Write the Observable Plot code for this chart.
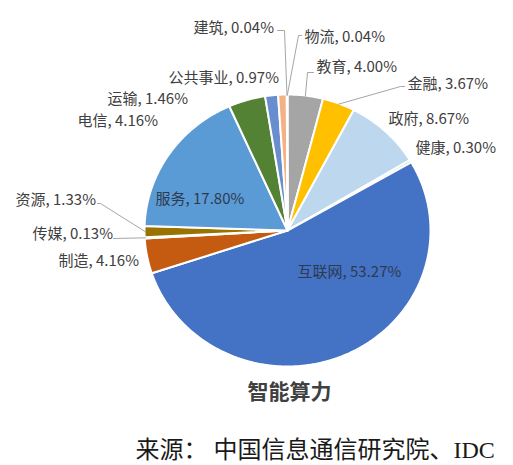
<!DOCTYPE html>
<html>
<head>
<meta charset="utf-8">
<script src="https://cdn.jsdelivr.net/npm/d3@7"></script>
<script src="https://cdn.jsdelivr.net/npm/@observablehq/plot@0.6"></script>
<style>
  html, body { margin: 0; padding: 0; background: #ffffff; }
  #chart { width: 513px; height: 465px; }
</style>
</head>
<body>
<div id="chart"></div>
<script>
// ---- data ----
const categories = ["教育", "金融", "政府", "健康", "互联网", "制造", "传媒", "资源", "服务", "电信", "运输", "公共事业", "建筑", "物流"];
const shares = [4.00, 3.67, 8.67, 0.30, 53.27, 4.16, 0.13, 1.33, 17.80, 4.16, 1.46, 0.97, 0.04, 0.04];
const sliceColors = ["#A5A5A5", "#FFC000", "#BDD7EE", "#A9D18E", "#4472C4", "#C55A11", "#F4B183", "#997300", "#5B9BD5", "#548235", "#698ED0", "#F4B183", "#FFD966", "#9DC3E6"];
const title = "智能算力";
const source = "来源： 中国信息通信研究院、IDC";

// ---- layout (chart pixel coordinates) ----
const pie = {cx: 287, cy: 230, rx: 143, ry: 136};
const labelX = [316, 407, 388, 415, 297, 58, 32, 15, 155, 77, 107, 168, 193, 304];
const labelY = [67, 84, 119, 148, 272, 261, 234, 200, 199, 121, 99, 78, 28, 37];
const labelInside = [false, false, false, false, true, false, false, false, true, false, false, false, false, false];
// leader line waypoints from pie edge toward the label (null = no leader)
const leaderWay = [
  [[307, 72], [313, 72]],
  [[400, 86], [404, 86]],
  null, null, null, null,
  [[113, 238]],
  [[100, 203], [97, 203]],
  null, null, null, null,
  [[284, 30], [277, 30]],
  [[298, 35], [301, 35]]
];

// ---- geometry via d3.pie ----
const arcs = d3.pie().sort(null).value(d => d)(shares);
const pt = (a, k = 1) => [pie.cx + k * pie.rx * Math.sin(a), pie.cy - k * pie.ry * Math.cos(a)];

const slicePts = [];
arcs.forEach((a, i) => {
  const cat = categories[i];
  slicePts.push({cat, x: pie.cx, y: pie.cy});
  const span = a.endAngle - a.startAngle;
  const n = Math.max(1, Math.ceil(span / (Math.PI / 360)));
  for (let j = 0; j <= n; j++) {
    const [x, y] = pt(a.startAngle + span * j / n);
    slicePts.push({cat, x, y});
  }
});

const leaderPts = [];
arcs.forEach((a, i) => {
  if (!leaderWay[i]) return;
  const mid = (a.startAngle + a.endAngle) / 2;
  const [x0, y0] = pt(mid, 0.995);
  leaderPts.push({cat: categories[i], x: x0, y: y0});
  leaderWay[i].forEach(([x, y]) => leaderPts.push({cat: categories[i], x, y}));
});

const labels = categories.map((c, i) => ({
  text: `${c}, ${shares[i].toFixed(2)}%`,
  x: labelX[i], y: labelY[i], inside: labelInside[i]
}));

const chart = Plot.plot({
  width: 513,
  height: 465,
  margin: 0,
  style: {background: "#ffffff"},
  x: {domain: [0, 513], range: [0, 513], axis: null},
  y: {domain: [0, 465], range: [0, 465], axis: null},
  color: {domain: categories, range: sliceColors},
  marks: [
    Plot.line(slicePts, {x: "x", y: "y", z: "cat", fill: "cat", stroke: "#ffffff", strokeWidth: 2, strokeLinejoin: "round", curve: "linear-closed"}),
    Plot.line(leaderPts, {x: "x", y: "y", z: "cat", stroke: "#A6A6A6", strokeWidth: 1}),
    Plot.text(labels, {x: "x", y: "y", text: "text", textAnchor: "start", lineAnchor: "middle",
      fill: d => d.inside ? "#2E3A50" : "#404040",
      fontSize: 15, fontFamily: "'Noto Sans CJK SC', 'Noto Sans', sans-serif"}),
    Plot.text([title], {x: () => 289, y: () => 392, text: d => d, fontSize: 21, fontWeight: "bold", fill: "#404040",
      fontFamily: "'Noto Sans CJK SC', sans-serif", lineAnchor: "middle"}),
    Plot.text([source], {x: () => 135, y: () => 450, text: d => d, fontSize: 24, fill: "#1a1a1a", textAnchor: "start",
      lineAnchor: "middle", letterSpacing: "2.2px",
      fontFamily: "'Liberation Serif', 'Noto Sans CJK SC', serif"})
  ]
});
document.getElementById("chart").appendChild(chart);
</script>
</body>
</html>
